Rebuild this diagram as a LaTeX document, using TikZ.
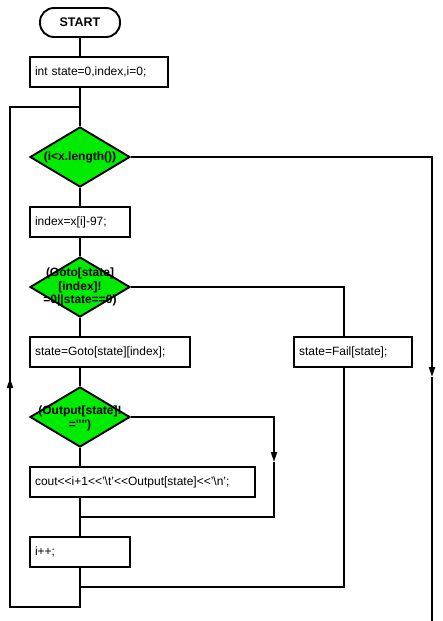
\documentclass[tikz,border=0pt]{standalone}
\usepackage{fontspec}
\setmainfont{Liberation Sans}
\usetikzlibrary{arrows.meta,shapes.geometric}
\definecolor{dgreen}{RGB}{0,235,0}
\tikzset{
  line/.style={line width=1.9pt},
  box/.style={draw,line width=1.9pt,minimum height=30,inner sep=0pt,font=\fontsize{12}{14}\selectfont,align=left},
  dec/.style={draw,line width=1.9pt,fill=dgreen,diamond,aspect=1.6667,minimum width=100,minimum height=60,inner sep=0pt},
  dtext/.style={font=\bfseries\fontsize{12}{13.5}\selectfont,align=center,inner sep=0pt},
  term/.style={draw,line width=1.9pt,rounded corners=14,minimum width=80,minimum height=29,font=\bfseries\fontsize{12.5}{14}\selectfont},
  arr/.style={line width=1.9pt,-{Triangle[length=10,width=6]}},
}
\begin{document}
\begin{tikzpicture}[x=1pt,y=-1pt]
\useasboundingbox (0,0) rectangle (443,621);
\node[term] (start) at (80,22.5) {START};
\node[box,minimum width=138,text width=128] (init) at (99,72) {int state=0,index,i=0;};
\node[dec] (d1) at (80,157) {};
\node[dtext] at (80,157) (t1) {(i<x.length())};
\node[box,minimum width=100,text width=90] (idx) at (80,222) {index=x[i]-97;};
\node[dec] (d2) at (80,287) {};
\node[dtext] at (80,287) (t2) {(Goto[state]\\{[index]!}\\=0||state==0)};
\node[box,minimum width=160,text width=150] (goto) at (110,352) {state=Goto[state][index];};
\node[box,minimum width=118,text width=108] (fail) at (353,352) {state=Fail[state];};
\node[dec] (d3) at (80,417) {};
\node[dtext] at (80,418.5) (t3) {(Output[state]!\\=\textquotedbl\textquotedbl)};
\node[box,minimum width=225,text width=215] (cout) at (142.5,482) {cout<{}<i+1<{}<'\textbackslash t'<{}<Output[state]<{}<'\textbackslash n';};
\node[box,minimum width=100,text width=90] (inc) at (80,552) {i++;};

\coordinate (top) at (80,107);
\coordinate (lb) at (10,607);
\coordinate (lt) at (10,107);
\coordinate (la) at (10,378);
\coordinate (bot) at (80,607);
\coordinate (r1) at (432,157);
\coordinate (r1a) at (432,377);
\coordinate (r1b) at (432,621);
\coordinate (f1) at (344,287);
\coordinate (f2) at (344,587);
\coordinate (m2) at (80,587);
\coordinate (o1) at (274,417);
\coordinate (o2) at (274,462);
\coordinate (o3) at (274,517);
\coordinate (m1) at (80,517);

\draw[line] (start.south) -- (start.south |- init.north);
\draw[line] (d1.north |- init.south) -- (d1.north);
\draw[line] (d1.south) -- (idx.north);
\draw[line] (idx.south) -- (d2.north);
\draw[line] (d2.south) -- (d2.south |- goto.north);
\draw[line] (d3.north |- goto.south) -- (d3.north);
\draw[line] (d3.south) -- (d3.south |- cout.north);
\draw[line] (inc.north |- cout.south) -- (inc.north);
\draw[line] (inc.south) -- (bot) -- (lb) -- (la);
\draw[arr] (lb) -- (la);
\draw[line] (la) -- (lt) -- (top);
\draw[arr] (d1.east) -- (r1) -- (r1a);
\draw[line] (r1a) -- (r1b);
\draw[line] (d2.east) -- (f1) -- (f1 |- fail.north);
\draw[line] (f1 |- fail.south) -- (f2) -- (m2);
\draw[arr] (d3.east) -- (o1) -- (o2);
\draw[line] (o2) -- (o3) -- (m1);
\end{tikzpicture}
\end{document}
